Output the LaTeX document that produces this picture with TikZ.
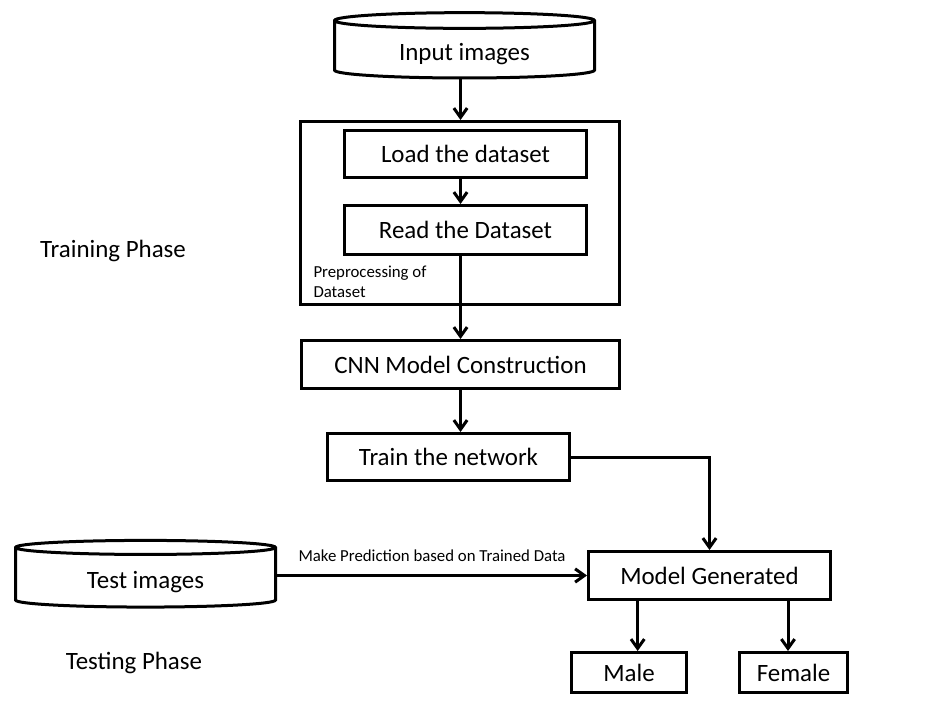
\documentclass[tikz,border=0pt]{standalone}
\usepackage{fontspec}
\setmainfont{Carlito}
\usetikzlibrary{shapes.geometric,arrows.meta}

\begin{document}
\begin{tikzpicture}[x=0.75pt, y=-0.75pt, line width=2.25pt,
    >={Straight Barb[length=7pt,width=10pt]},
    box/.style={draw, rectangle, inner sep=0pt, font=\fontsize{18.7}{22}\selectfont},
    db/.style={draw, cylinder, shape border rotate=90, aspect=0.12, inner sep=0pt,
        text height=20pt, text depth=4pt, font=\fontsize{18.7}{22}\selectfont},
    small/.style={font=\fontsize{12.6}{15}\selectfont},
    phase/.style={font=\fontsize{18.7}{22}\selectfont}]
    \useasboundingbox (0,0) rectangle (926,724);

    \node[db, minimum width=195pt, minimum height=49pt] (input) at (464.5,50){Input images};
    \node[box, minimum width=239.25pt, minimum height=137.25pt] (prep) at (460,213){};
    \node[box, minimum width=181.5pt, minimum height=35.25pt] (load) at (465.5,154){Load the dataset};
    \node[box, minimum width=181.5pt, minimum height=36.75pt] (read) at (465.5,230){Read the Dataset};
    \node[small, anchor=north west, inner sep=0pt, align=left] (preplabel) at (312,264){Preprocessing of\\Dataset};
    \node[box, minimum width=238.5pt, minimum height=36pt] (cnn) at (460.5,364.5){CNN Model Construction};
    \node[box, minimum width=181.5pt, minimum height=35.25pt] (train) at (448.5,457){Train the network};
    \node[box, minimum width=181.5pt, minimum height=36pt] (model) at (709.5,575.5){Model Generated};
    \node[box, minimum width=86.25pt, minimum height=30pt] (male) at (629,672.5){Male};
    \node[box, minimum width=81pt, minimum height=30pt] (female) at (793.5,672.5){Female};
    \node[db, minimum width=195pt, minimum height=50pt] (test) at (145.5,578){Test images};

    \node[phase] (training) at (113,251){Training Phase};
    \node[phase] (testing) at (134,663){Testing Phase};

    \draw[->] (input.south -| cnn) -- (prep.north -| cnn);
    \draw[->] (load.south -| cnn) -- (read.north -| cnn);
    \draw[->] (read.south -| cnn) -- (cnn.north);
    \draw[->] (cnn.south) -- (train.north -| cnn);
    \draw[->] (train.east) -| (model.north);
    \draw[->] (test.east |- model.west) -- (model.west) node[midway, above=6pt, small]{Make Prediction based on Trained Data};
    \draw[->] ([xshift=38pt]model.south west) -- ([xshift=38pt]model.south west |- male.north);
    \draw[->] ([xshift=-33pt]model.south east) -- ([xshift=-33pt]model.south east |- female.north);
\end{tikzpicture}
\end{document}
